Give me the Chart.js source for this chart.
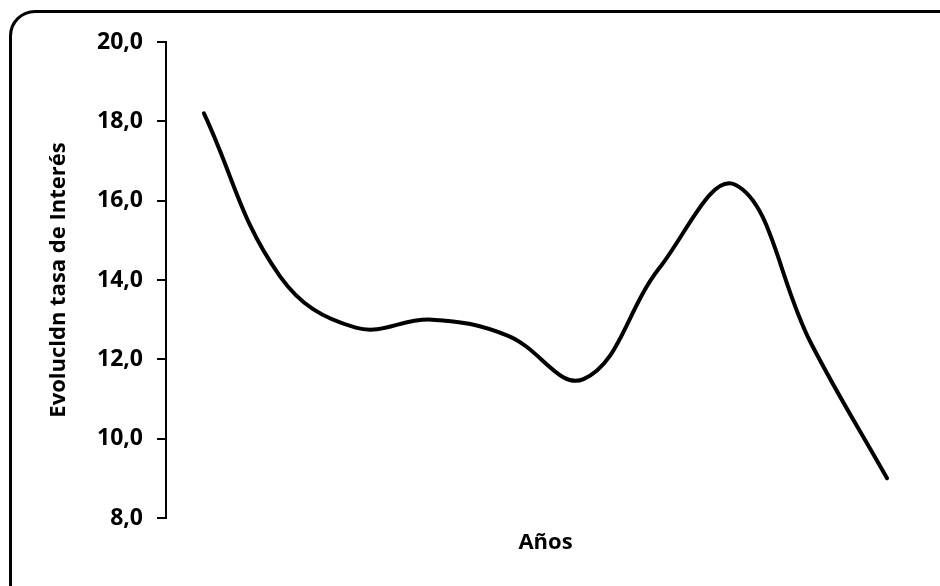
<!DOCTYPE html>
<html>
<head>
<meta charset="utf-8">
<script src="https://cdn.jsdelivr.net/npm/chart.js@4"></script>
<style>
  html, body { margin: 0; padding: 0; background: #fff; overflow: hidden; }
  #frame {
    position: absolute; left: 9px; top: 10px; width: 960px; height: 620px;
    border: 3px solid #000; border-radius: 26px;
  }
  #wrap { position: absolute; left: 0; top: 0; width: 940px; height: 586px; }
</style>
</head>
<body>
<div id="frame"></div>
<div id="wrap"><canvas id="rateChart" width="940" height="586"></canvas></div>
<script>
// yearly points (no year labels shown)
const years = ['1', '2', '3', '4', '5', '6', '7', '8', '9', '10'];
const rates = [18.2, 14.1, 12.8, 13.0, 12.6, 11.5, 14.3, 16.4, 12.4, 9.0];
const yTitle = 'Evolucldn tasa de Interés';
const xTitle = 'Años';

Chart.defaults.color = '#000';
Chart.defaults.font.family = '"Open Sans", sans-serif';

const ctx = document.getElementById('rateChart').getContext('2d');

new Chart(ctx, {
  type: 'line',
  data: {
    labels: years,
    datasets: [{
      data: rates,
      borderColor: '#000',
      borderWidth: 4,
      borderCapStyle: 'round',
      pointRadius: 0,
      fill: false,
      tension: 0.4
    }]
  },
  options: {
    responsive: false,
    animation: false,
    layout: { padding: { left: 42, top: 42, right: 15, bottom: 26 } },
    plugins: { legend: { display: false }, tooltip: { enabled: false } },
    scales: {
      x: {
        offset: true,
        ticks: { display: false },
        grid: { display: false },
        border: { display: false },
        title: { display: true, text: xTitle, font: { size: 22, weight: 'bold' }, padding: { top: 4, bottom: 4 } },
        afterFit: scale => { scale.height = 42; }
      },
      y: {
        min: 8,
        max: 20,
        ticks: {
          stepSize: 2,
          padding: 14,
          font: { size: 23, weight: 'bold' },
          callback: v => v.toFixed(1).replace('.', ',')
        },
        grid: { drawOnChartArea: false, drawTicks: true, tickLength: 9, color: '#000', lineWidth: 2 },
        border: { display: true, color: '#000', width: 2 },
        title: { display: true, text: yTitle, font: { size: 22, weight: 'bold' }, padding: { top: 4, bottom: 4 } },
        afterFit: scale => { scale.width = 124; }
      }
    }
  }
});
</script>
</body>
</html>
